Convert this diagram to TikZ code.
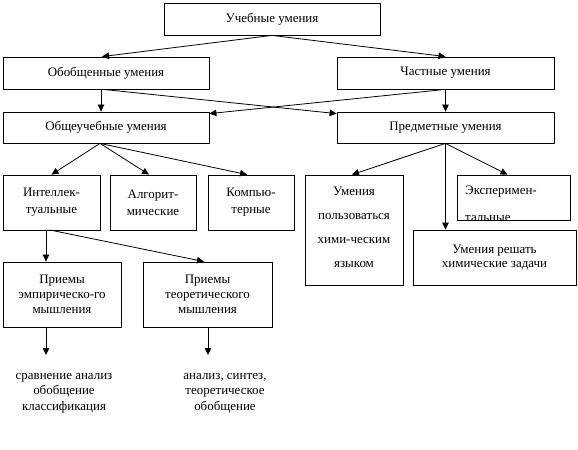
\documentclass[tikz,border=0pt]{standalone}
\usepackage{fontspec}
\setmainfont{Liberation Serif}
\usetikzlibrary{arrows.meta,calc}
\begin{document}
\begin{tikzpicture}[x=1bp,y=-1bp,
  box/.style={draw, line width=0.8bp, inner sep=0pt, align=center,
    font=\fontsize{13}{15}\selectfont},
  arr/.style={line width=0.8bp, -{Triangle[length=7bp,width=6.5bp]}},
  lbl/.style={align=center, inner sep=0pt, font=\fontsize{13}{15.5}\selectfont}]
\useasboundingbox (0,0) rectangle (578,450);
\node[box, minimum width=216bp, minimum height=32bp] (A) at (272,19) {Учебные умения};
\node[box, minimum width=206bp, minimum height=32bp] (B) at (106,73) {Обобщенные умения};
\node[box, minimum width=217bp, minimum height=32bp] (C) at (445.5,73) {Частные умения};
\node[box, minimum width=206bp, minimum height=31bp] (D) at (106,127.5) {Общеучебные умения};
\node[box, minimum width=217bp, minimum height=31bp] (E) at (445.5,127.5) {Предметные умения};
\node[box, minimum width=97bp, minimum height=55bp, font=\fontsize{13}{17}\selectfont] (F) at (51.5,202.5) {Интеллек-\\туальные};
\node[box, minimum width=86bp, minimum height=55bp, font=\fontsize{13}{17}\selectfont] (G) at (153,202.5) {Алгорит-\\мические};
\node[box, minimum width=86bp, minimum height=55bp, font=\fontsize{13}{17}\selectfont] (H) at (251,202.5) {Компью-\\терные};
\node[box, minimum width=118bp, minimum height=65bp] (I) at (62,294.5) {Приемы\\эмпирическо-го\\мышления};
\node[box, minimum width=129bp, minimum height=65bp] (J) at (207.5,294.5) {Приемы\\теоретического\\мышления};
\node[box, minimum width=98bp, minimum height=110bp] (K) at (354,230) {};
\node[align=center, inner sep=0pt, font=\fontsize{13}{24}\selectfont] (Ktext) at (354,227) {Умения\\пользоваться\\хими-ческим\\языком};
\node[box, minimum width=113bp, minimum height=45bp] (L) at (513.5,197.5) {};
\begin{scope}
  \clip (L.north west) rectangle (L.south east);
  \node[anchor=base west, inner sep=0pt, font=\fontsize{13}{15}\selectfont] (Ltexta) at (465,195) {Эксперимен-};
  \node[anchor=base west, inner sep=0pt, font=\fontsize{13}{15}\selectfont] (Ltextb) at (465,222) {тальные};
\end{scope}
\node[box, minimum width=163bp, minimum height=55bp] (M) at (494.5,257.5) {Умения решать\\химические задачи};
\node[lbl] (N) at (64,393) {сравнение анализ\\обобщение\\классификация};
\node[lbl] (O) at (225,393) {анализ, синтез,\\теоретическое\\обобщение};
\coordinate (Nend) at (46,355);
\coordinate (Oend) at (208,355);
\coordinate (Fa) at (46,230);
\coordinate (Fb) at (50,230);
% arrows
\draw[arr] (A.south) -- ($(B.north)+(-4,0)$);
\draw[arr] (A.south) -- (C.north);
\draw[arr] ($(B.south)+(-5,0)$) -- ($(D.north)+(-5,0)$);
\draw[arr] ($(B.south)+(-3,0)$) -- ($(E.north west)+(0,2)$);
\draw[arr] (C.south) -- ($(D.north east)+(0,2)$);
\draw[arr] (C.south) -- (E.north);
\draw[arr] ($(D.south)+(-6,0)$) -- (F.north);
\draw[arr] ($(D.south)+(-6,0)$) -- ($(G.north)+(-4,0)$);
\draw[arr] ($(D.south)+(-6,0)$) -- ($(H.north)+(-4,0)$);
\draw[arr] (E.south) -- ($(K.north)+(-2,0)$);
\draw[arr] (E.south) -- ($(L.north)+(-6,0)$);
\draw[arr] (E.south) -- (E.south |- M.north);
\draw[arr] (Fa) -- (Fa |- I.north);
\draw[arr] (Fb) -- ($(J.north)+(-3.5,0)$);
\draw[arr] (I.south -| Nend) -- (Nend);
\draw[arr] (J.south -| Oend) -- (Oend);
\end{tikzpicture}
\end{document}
